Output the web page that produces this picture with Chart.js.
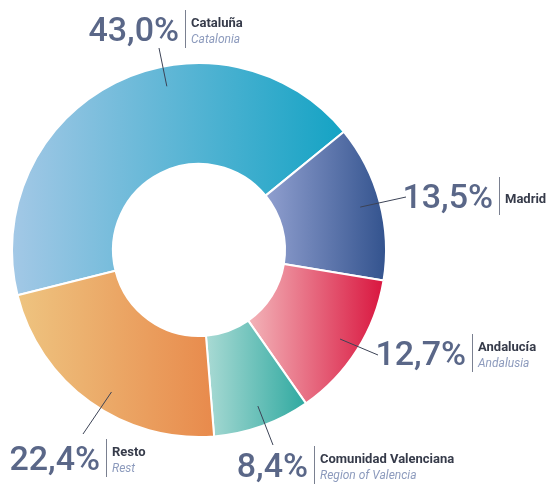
<!DOCTYPE html>
<html>
<head>
	<meta charset="UTF-8">
	<title>doughnut</title>
	<script src="https://cdn.jsdelivr.net/npm/chart.js"></script>
	<style>
	body{margin:0; background:#fff;}
	#wrap{width:546px; height:487px; position:relative;}
	</style>
</head>
<body>
	<div id="wrap">
	  <canvas id="myChart"></canvas>
	</div>
	<script>
	// datos
	const regiones = ['Cataluña', 'Madrid', 'Andalucía', 'Comunidad Valenciana', 'Resto'];
	const regionesEn = ['Catalonia', '', 'Andalusia', 'Region of Valencia', 'Rest'];
	const porcentajes = [43.0, 13.5, 12.7, 8.4, 22.4];

	// colores degradados (izquierda -> derecha)
	const colIzq = ['#a3c8e6', '#909fcf', '#f3b4b9', '#a9dad4', '#eec480'];
	const colDer = ['#14a3c4', '#33538e', '#d9163f', '#2fa9a0', '#e88a4c'];

	// posicion de las etiquetas (separador) y fin de la linea guia
	const etiquetas = [
		{x:185, y:10, ex:159, ey:48, t:0.6},
		{x:499, y:177, ex:406, ey:197, t:0.5},
		{x:472, y:334, ex:378, ey:355, t:0.5},
		{x:314, y:446, ex:273, ey:445, t:0.47},
		{x:106, y:439, ex:83, ey:434, t:0.45}
	];

	const ROT = 256;
	const BORDE = 2;

	function degradado(ctx){
		const chart = ctx.chart;
		const area = chart.chartArea;
		const i = ctx.dataIndex;
		if (!area) return colDer[i];
		const cx = (area.left + area.right) / 2;
		const rOut = (Math.min(area.width, area.height) - BORDE) / 2;
		const rIn = rOut * 0.46;
		const total = porcentajes.reduce((a, b) => a + b, 0);
		let ini = ROT;
		for (let k = 0; k < i; k++) ini += porcentajes[k] / total * 360;
		const fin = ini + porcentajes[i] / total * 360;
		let minX = 1e9, maxX = -1e9;
		for (let s = 0; s <= 40; s++){
			const a = (ini + (fin - ini) * s / 40 - 90) * Math.PI / 180;
			[rIn, rOut].forEach(r => {
				const x = cx + r * Math.cos(a);
				minX = Math.min(minX, x); maxX = Math.max(maxX, x);
			});
		}
		const g = chart.ctx.createLinearGradient(minX, 0, maxX, 0);
		g.addColorStop(0, colIzq[i]);
		g.addColorStop(1, colDer[i]);
		return g;
	}

	// etiquetas con linea guia
	const etiquetasPlugin = {
		id: 'etiquetas',
		afterDraw(chart){
			const c = chart.ctx;
			const arcs = chart.getDatasetMeta(0).data;
			c.save();
			arcs.forEach((arc, i) => {
				const e = etiquetas[i];
				const a = arc.startAngle + e.t * (arc.endAngle - arc.startAngle);
				const r = arc.innerRadius + 0.8 * (arc.outerRadius - arc.innerRadius);
				// linea guia
				c.strokeStyle = '#3c4356';
				c.lineWidth = 1;
				c.beginPath();
				c.moveTo(arc.x + r * Math.cos(a), arc.y + r * Math.sin(a));
				c.lineTo(e.ex, e.ey);
				c.stroke();
				// separador
				c.strokeStyle = '#7a8090';
				c.beginPath();
				c.moveTo(e.x + 0.5, e.y);
				c.lineTo(e.x + 0.5, e.y + 38);
				c.stroke();
				// porcentaje
				c.fillStyle = '#5a6788';
				c.font = '500 34px Roboto, sans-serif';
				c.textAlign = 'right';
				c.textBaseline = 'alphabetic';
				c.fillText(porcentajes[i].toFixed(1).replace('.', ',') + '%', e.x - 6, e.y + 31);
				// nombres
				c.textAlign = 'left';
				c.fillStyle = '#363b4a';
				c.font = 'bold 13px Roboto, sans-serif';
				if (regionesEn[i]){
					c.fillText(regiones[i], e.x + 6, e.y + 17);
					c.fillStyle = '#8d9bbd';
					c.font = 'italic 12px Roboto, sans-serif';
					c.fillText(regionesEn[i], e.x + 6, e.y + 33);
				} else {
					c.fillText(regiones[i], e.x + 6, e.y + 26);
				}
			});
			c.restore();
		}
	};

	new Chart(document.getElementById('myChart'), {
		type: 'doughnut',
		data: {
			labels: regiones,
			datasets: [{
				data: porcentajes,
				backgroundColor: degradado,
				borderColor: '#ffffff',
				borderWidth: BORDE
			}]
		},
		options: {
			responsive: true,
			maintainAspectRatio: false,
			animation: false,
			rotation: ROT,
			cutout: '46%',
			layout: {padding: {left: 11, top: 62, right: 159, bottom: 49}},
			plugins: {
				legend: {display: false},
				tooltip: {enabled: false}
			}
		},
		plugins: [etiquetasPlugin]
	});
	</script>
</body>
</html>
